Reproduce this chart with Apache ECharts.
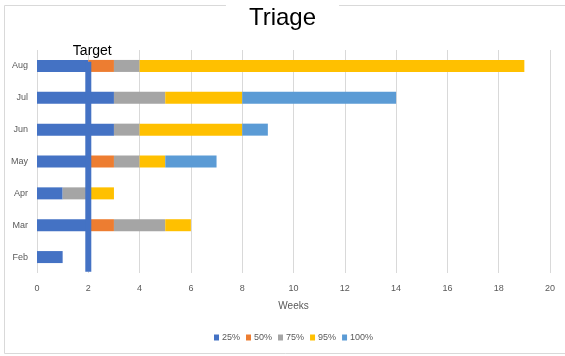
<!DOCTYPE html>
<html>
<head>
<meta charset="utf-8">
<script src="https://cdn.jsdelivr.net/npm/echarts@6/dist/echarts.min.js"></script>
<style>
  html, body { margin: 0; padding: 0; background: #fff; }
  #chart { width: 565px; height: 356px; }
</style>
</head>
<body>
<div id="chart"></div>
<script>
// Months, bottom to top
const months = ['Feb', 'Mar', 'Apr', 'May', 'Jun', 'Jul', 'Aug'];

// Weeks taken to reach each percentile (stacked increments)
const p25  = [1, 2, 1, 2, 3, 3, 2];
const p50  = [0, 1, 0, 1, 0, 0, 1];
const p75  = [0, 2, 1, 1, 1, 2, 1];
const p95  = [0, 1, 1, 1, 4, 3, 15];
const p100 = [0, 0, 0, 2, 1, 6, 0];

const seriesNames = ['25%', '50%', '75%', '95%', '100%'];
const seriesColors = ['#4472C4', '#ED7D31', '#A5A5A5', '#FFC000', '#5B9BD5'];

// Target marker: weeks, and its vertical extent on the 0..7 helper scale
const targetWeeks = 2;
const targetSpan = [0.04, 6.63];

const weekTicks = { min: 0, max: 20, interval: 2 };

const chart = echarts.init(document.getElementById('chart'), null, { renderer: 'canvas' });

const axisText = { color: '#595959', fontSize: 9, fontFamily: 'Liberation Sans' };

const barSeries = [p25, p50, p75, p95, p100].map((vals, i) => ({
  name: seriesNames[i],
  type: 'bar',
  stack: 'weeks',
  barWidth: 12,
  yAxisIndex: 0,
  itemStyle: { color: seriesColors[i] },
  data: vals
}));

chart.setOption({
  animation: false,
  textStyle: { fontFamily: 'Liberation Sans' },
  graphic: [{
    type: 'rect',
    z: 0,
    shape: { x: 4.5, y: 5.5, width: 580, height: 348 },
    style: { fill: 'none', stroke: '#d9d9d9', lineWidth: 1 }
  }],
  title: {
    text: 'Triage',
    left: 'center',
    top: 2,
    padding: [4, 23, 0, 23],
    backgroundColor: '#fff',
    textStyle: { fontSize: 24, fontWeight: 'normal', color: '#000', fontFamily: 'Liberation Sans' }
  },
  legend: {
    bottom: 9,
    left: 209,
    itemWidth: 5,
    itemHeight: 6,
    itemGap: 6,
    icon: 'rect',
    textStyle: { color: '#595959', fontSize: 9, padding: [0, 0, 0, -2] },
    data: seriesNames
  },
  grid: { left: 37, right: 15, top: 50, bottom: 83, containLabel: false },
  xAxis: {
    type: 'value',
    min: weekTicks.min,
    max: weekTicks.max,
    interval: weekTicks.interval,
    name: 'Weeks',
    nameLocation: 'middle',
    nameGap: 28,
    nameTextStyle: { color: '#595959', fontSize: 10 },
    axisLine: { show: false },
    axisTick: { show: false },
    axisLabel: Object.assign({ margin: 11 }, axisText),
    splitLine: { show: true, lineStyle: { color: '#d9d9d9', width: 1 } }
  },
  yAxis: [{
    type: 'category',
    data: months,
    axisLine: { show: false },
    axisTick: { show: false },
    axisLabel: Object.assign({ margin: 9 }, axisText),
    splitLine: { show: false }
  }, {
    type: 'value',
    min: 0,
    max: 7,
    show: false
  }],
  series: barSeries.concat([{
    name: 'Target',
    type: 'line',
    yAxisIndex: 1,
    z: 5,
    symbol: 'circle',
    symbolSize: 0,
    showSymbol: true,
    lineStyle: { color: '#4472C4', width: 6, cap: 'butt' },
    itemStyle: { color: '#4472C4' },
    data: [
      { value: [targetWeeks, targetSpan[0]] },
      {
        value: [targetWeeks, targetSpan[1]],
        label: {
          show: true,
          position: 'top',
          distance: 4,
          offset: [4, 0],
          formatter: 'Target',
          color: '#000',
          fontSize: 14,
          fontFamily: 'Liberation Sans'
        }
      }
    ]
  }])
});
</script>
</body>
</html>
